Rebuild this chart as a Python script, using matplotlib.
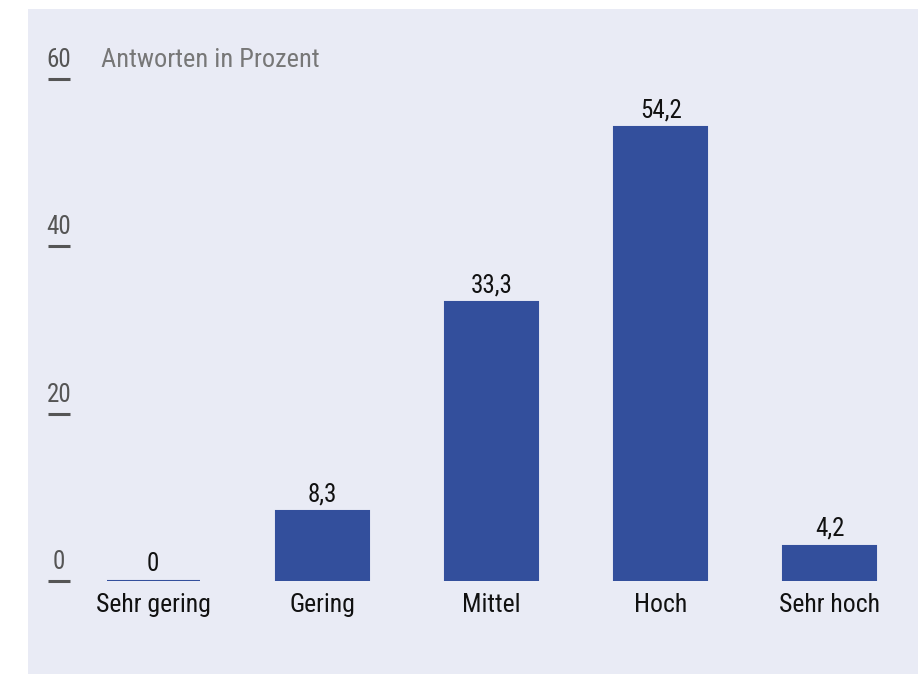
import numpy as np
import matplotlib.pyplot as plt
from matplotlib.patches import Rectangle

categories = ["Sehr gering", "Gering", "Mittel", "Hoch", "Sehr hoch"]
values = [0, 8.3, 33.3, 54.2, 4.2]
value_labels = ["0", "8,3", "33,3", "54,2", "4,2"]
yticks = [0, 20, 40, 60]

plt.rcParams['font.family'] = ['Roboto Condensed', 'DejaVu Sans']

bar_color = "#334f9c"
bg = "#e9ebf5"
W, H = 918, 674

fig = plt.figure(figsize=(9.18, 6.74), dpi=100)
fig.patch.set_facecolor("white")
fig.add_artist(Rectangle((28 / W, 0), 1 - 28 / W, (H - 9) / H,
                         transform=fig.transFigure, facecolor=bg,
                         edgecolor="none", zorder=-10))

ax = fig.add_axes([28 / W, (H - 581) / H, 1 - 28 / W, (581 - 78.5) / H])
ax.set_zorder(1)
ax.set_facecolor("none")
x = np.arange(len(categories))
ax.bar(x, values, width=0.5495, color=bar_color, edgecolor=bar_color, linewidth=1.5)
ax.set_xlim(-0.7386, 4.52)
ax.set_ylim(0, 60)
for s in ax.spines.values():
    s.set_visible(False)
ax.set_xticks([])
ax.set_yticks([])

# value labels
for xi, v, lab in zip(x, values, value_labels):
    ax.annotate(lab, (xi, v), xytext=(0, 7.2), textcoords="offset points",
                ha="center", va="baseline", fontsize=18, color="#111111")

# category labels
for xi, c in zip(x, categories):
    ax.annotate(c, (xi, 0), xytext=(0, -22.5), textcoords="offset points",
                ha="center", va="baseline", fontsize=18.5, color="#111111")

# y ticks: dash with label above
trans = ax.get_yaxis_transform()
tx = (59 - 28) / (W - 28)
for t in yticks:
    ax.plot([(48 - 28) / (W - 28), (70 - 28) / (W - 28)], [t, t], color="#555555",
            lw=2.2, transform=trans, clip_on=False, solid_capstyle="butt")
    ax.annotate(str(t), (tx, t), xycoords=trans, xytext=(0, 8.5),
                textcoords="offset points", ha="center", va="baseline",
                fontsize=18, color="#555555")

ax.annotate("Antworten in Prozent", ((101 - 28) / (W - 28), 60), xycoords=trans,
            xytext=(0, 8.5), textcoords="offset points", ha="left", va="baseline",
            fontsize=19, color="#777777")

fig.savefig("out.png", dpi=100)
